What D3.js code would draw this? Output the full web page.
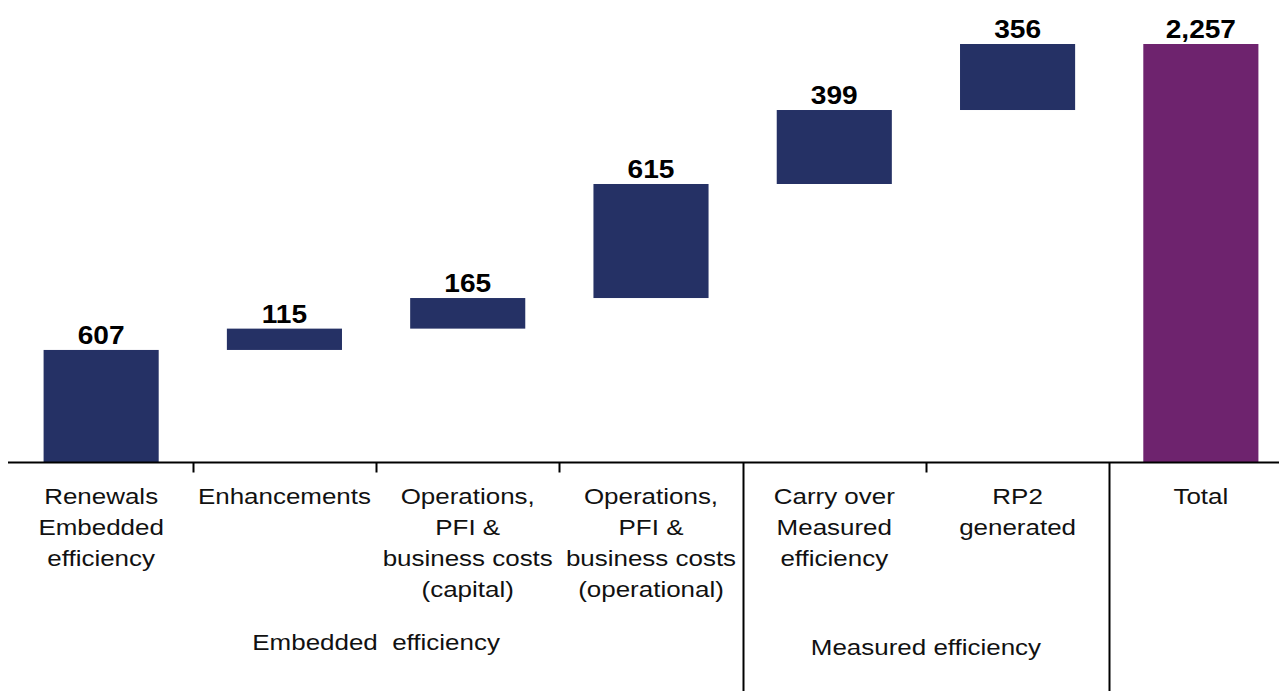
<!DOCTYPE html>
<html>
<head>
<meta charset="utf-8">
<script src="https://cdn.jsdelivr.net/npm/d3@7"></script>
<style>
  html, body { margin: 0; padding: 0; background: #fff; }
  text { font-family: "Liberation Sans", Arial, sans-serif; white-space: pre; }
</style>
</head>
<body>
<div id="chart"></div>
<script>
// waterfall data
var categories = ["Renewals Embedded efficiency", "Enhancements", "Operations capital",
  "Operations operational", "Carry over", "RP2 generated", "Total"];
var labelLines = [
  ["Renewals", "Embedded", "efficiency"],
  ["Enhancements"],
  ["Operations,", "PFI &", "business costs", "(capital)"],
  ["Operations,", "PFI &", "business costs", "(operational)"],
  ["Carry over", "Measured", "efficiency"],
  ["RP2", "generated"],
  ["Total"]
];
var values = [607, 115, 165, 615, 399, 356, 2257];
var isTotal = [false, false, false, false, false, false, true];
var valueLabels = ["607", "115", "165", "615", "399", "356", "2,257"];

// groups under the axis: first and last category index
var groups = [
  {name: "Embedded  efficiency", from: 0, to: 3},
  {name: "Measured efficiency", from: 4, to: 5}
];
// separators that run to the bottom (index of category on the right side)
var longDividers = [4, 6];

var width = 1279, height = 691;
var axisY = 462.5;

var svg = d3.select("#chart").append("svg")
  .attr("width", width)
  .attr("height", height);

// build waterfall segments
var running = 0;
var segs = values.map(function(v, i) {
  var s;
  if (isTotal[i]) {
    s = {start: 0, end: v};
  } else {
    s = {start: running, end: running + v};
    running += v;
  }
  s.cat = categories[i];
  s.label = valueLabels[i];
  s.total = isTotal[i];
  return s;
});

var x = d3.scaleBand()
  .domain(categories)
  .range([9.5, 1292.5])
  .paddingInner(0.372)
  .paddingOuter(0.186);

var y = d3.scaleLinear()
  .domain([0, d3.max(segs, function(d) { return d.end; })])
  .range([axisY, 44]);

var step = x.step();
function leftEdge(i) { return x(categories[i]) - x.paddingInner() * step / 2; }

// bars
svg.selectAll(".bar")
  .data(segs)
  .enter().append("rect")
  .attr("class", "bar")
  .attr("x", function(d) { return x(d.cat); })
  .attr("width", x.bandwidth())
  .attr("y", function(d) { return y(d.end); })
  .attr("height", function(d) { return y(d.start) - y(d.end); })
  .attr("fill", function(d) { return d.total ? "#6E236E" : "#253165"; });

// value labels
svg.selectAll(".val")
  .data(segs)
  .enter().append("text")
  .attr("class", "val")
  .attr("text-anchor", "middle")
  .attr("transform", function(d) {
    return "translate(" + (x(d.cat) + x.bandwidth() / 2) + "," + (y(d.end) - 6) + ") scale(1.08,1)";
  })
  .style("font-size", "26px")
  .style("font-weight", "bold")
  .attr("fill", "#000")
  .text(function(d) { return d.label; });

// axis line
svg.append("line")
  .attr("x1", 8).attr("x2", width)
  .attr("y1", axisY).attr("y2", axisY)
  .attr("stroke", "#000").attr("stroke-width", 2);

// ticks between categories
for (var i = 1; i < categories.length; i++) {
  var tx = Math.round(leftEdge(i)) + 0.5;
  var isLong = longDividers.indexOf(i) >= 0;
  svg.append("line")
    .attr("x1", tx).attr("x2", tx)
    .attr("y1", axisY).attr("y2", isLong ? height : axisY + 10)
    .attr("stroke", "#000").attr("stroke-width", 2);
}

// category labels
categories.forEach(function(c, i) {
  var cx = x(c) + x.bandwidth() / 2;
  labelLines[i].forEach(function(line, j) {
    svg.append("text")
      .attr("text-anchor", "middle")
      .attr("transform", "translate(" + cx + "," + (504 + j * 31) + ") scale(1.18,1)")
      .style("font-size", "22px")
      .attr("fill", "#111")
      .text(line);
  });
});

// group labels
var groupY = [650, 655];
groups.forEach(function(g, k) {
  var gx = (leftEdge(g.from) + leftEdge(g.to) + step) / 2;
  svg.append("text")
    .attr("text-anchor", "middle")
    .attr("transform", "translate(" + gx + "," + groupY[k] + ") scale(1.18,1)")
    .style("font-size", "22px")
    .attr("fill", "#111")
    .text(g.name);
});
</script>
</body>
</html>
